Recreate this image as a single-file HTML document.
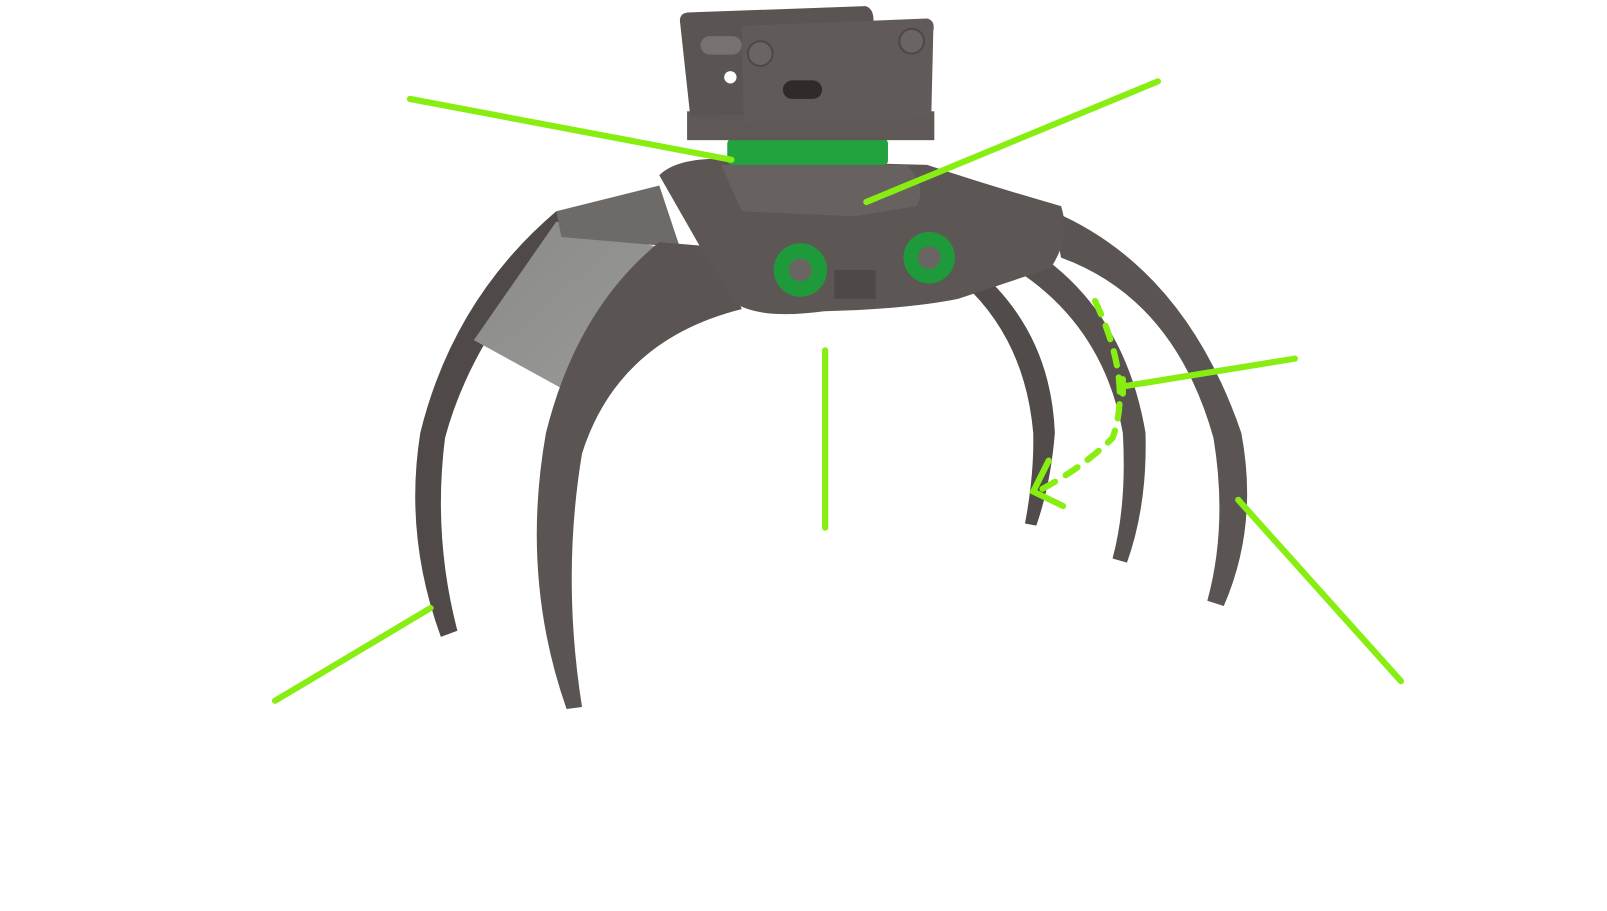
<!DOCTYPE html>
<html><head><style>html,body{margin:0;padding:0;background:#fff;}svg{display:block}</style></head>
<body>
<svg width="1607" height="911" viewBox="0 0 1560 884" preserveAspectRatio="none" xmlns="http://www.w3.org/2000/svg">
<defs>
<linearGradient id="pan" x1="0" y1="0" x2="1" y2="1"><stop offset="0" stop-color="#8a8a88"/><stop offset="1" stop-color="#9a9c98"/></linearGradient>
</defs>
<!-- back right claws (tapered) -->
<path d="M945 258 Q1020 320 1024 420 Q1020 470 1006 510 L995 508 Q1004 460 1003 420 Q995 330 935 275 Z" fill="#514b49"/>
<path d="M985 232 Q1090 290 1112 420 Q1114 490 1094 546 L1080 542 Q1094 490 1090 420 Q1070 310 975 255 Z" fill="#57514f"/>
<path d="M1022 205 Q1150 260 1205 420 Q1222 510 1188 588 L1172 583 Q1192 510 1178 425 Q1140 290 1030 250 Z" fill="#5a5452"/>
<!-- left back claw -->
<path d="M540 205 Q440 290 408 420 Q392 520 428 618 L444 612 Q420 520 432 425 Q460 320 560 218 Z" fill="#4f4947"/>
<!-- panel -->
<path d="M460 330 L540 215 L640 240 L655 300 L560 385 Z" fill="url(#pan)"/>
<path d="M540 205 L640 180 L660 240 L545 230 Z" fill="#6e6a68"/>
<!-- front left claw -->
<path d="M640 235 Q560 300 530 420 Q505 560 550 688 L565 686 Q545 560 565 440 Q600 330 720 300 L700 240 Z" fill="#5a5452"/>
<!-- body -->
<path d="M640 170 Q660 150 720 155 L900 160 Q960 180 1030 200 Q1040 230 1020 260 L930 290 Q880 300 800 302 Q740 310 715 295 L680 240 Z" fill="#5c5654"/>
<path d="M700 160 L880 160 Q900 180 890 200 L830 210 L720 205 Z" fill="#67615f"/>
<!-- green discs -->
<circle cx="777" cy="262" r="26" fill="#1e9a3a"/><circle cx="777" cy="262" r="11" fill="#6a6563"/>
<circle cx="902" cy="250" r="25" fill="#1e9a3a"/><circle cx="902" cy="250" r="11" fill="#6a6563"/>
<rect x="810" y="262" width="40" height="28" fill="#4e4846"/>
<!-- ring -->
<rect x="706" y="135" width="156" height="25" rx="4" fill="#22a33e"/>
<!-- mount -->
<rect x="667" y="108" width="240" height="28" fill="#5e5856"/>
<path d="M660 20 Q660 12 670 12 L840 6 Q848 8 848 20 L850 110 L670 112 Z" fill="#5a5452"/>
<path d="M720 25 L900 18 Q908 20 906 30 L904 115 L722 118 Z" fill="#605a58"/>
<rect x="680" y="35" width="40" height="18" rx="9" fill="#77716f"/>
<circle cx="738" cy="52" r="12" fill="#6a6462" stroke="#4e4846" stroke-width="2"/>
<circle cx="885" cy="40" r="12" fill="#6a6462" stroke="#4e4846" stroke-width="2"/>
<rect x="760" y="78" width="38" height="18" rx="9" fill="#2f2b2a"/>
<circle cx="709" cy="75" r="6" fill="#fff"/>
<!-- green lines -->
<g stroke="#88ee11" stroke-width="6" stroke-linecap="round" fill="none">
<line x1="398" y1="96" x2="710" y2="155"/>
<line x1="1124" y1="79" x2="841" y2="196"/>
<line x1="801" y1="340" x2="801" y2="512"/>
<line x1="1257" y1="348" x2="1090" y2="375"/>
<line x1="1090" y1="368" x2="1090" y2="382"/>
<line x1="1202" y1="485" x2="1360" y2="661"/>
<line x1="418" y1="590" x2="267" y2="680"/>
<path d="M1063 292 Q1100 370 1080 425 Q1050 455 1005 478" stroke-dasharray="14 12"/>
<path d="M1018 447 L1003 477 L1032 491"/>
</g>
</svg>
</body></html>
